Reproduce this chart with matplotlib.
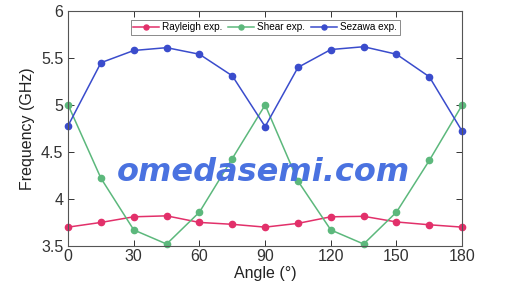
import matplotlib
matplotlib.use("Agg")
import matplotlib.pyplot as plt

plt.rcParams['font.family'] = ['Liberation Sans', 'DejaVu Sans']

angle = [0, 15, 30, 45, 60, 75, 90, 105, 120, 135, 150, 165, 180]
rayleigh = [3.70, 3.75, 3.81, 3.82, 3.75, 3.73, 3.70, 3.74, 3.81, 3.815, 3.755, 3.725, 3.70]
shear = [5.00, 4.22, 3.67, 3.52, 3.86, 4.43, 5.00, 4.19, 3.67, 3.52, 3.86, 4.41, 5.00]
sezawa = [4.78, 5.45, 5.58, 5.61, 5.54, 5.31, 4.77, 5.40, 5.59, 5.62, 5.54, 5.30, 4.72]

fig = plt.figure(figsize=(5.24, 2.90), dpi=100)
ax = fig.add_axes([0.130, 0.152, 0.752, 0.810])

ax.plot(angle, rayleigh, color="#e2306a", marker="o", markersize=4.5, linewidth=1.1, label="Rayleigh exp.", clip_on=False)
ax.plot(angle, shear, color="#5cb87c", marker="o", markersize=4.5, linewidth=1.1, label="Shear exp.", clip_on=False)
ax.plot(angle, sezawa, color="#3a4ccc", marker="o", markersize=4.5, linewidth=1.1, label="Sezawa exp.", clip_on=False)

ax.set_xlim(0, 180)
ax.set_ylim(3.5, 6)
ax.set_xticks([0, 30, 60, 90, 120, 150, 180])
ax.set_yticks([3.5, 4, 4.5, 5, 5.5, 6])
ax.set_yticklabels(["3.5", "4", "4.5", "5", "5.5", "6"])
ax.tick_params(direction="in", top=True, right=True, labelsize=11.5, length=4, width=0.7, colors="#333333")
ax.tick_params(axis="x", pad=2)
for s in ax.spines.values():
    s.set_linewidth(0.8)
    s.set_color("#555555")

ax.set_xlabel("Angle (°)", fontsize=11.5, color="#222222", labelpad=2)
ax.set_ylabel("Frequency (GHz)", fontsize=11.5, color="#222222", labelpad=4)

leg = ax.legend(loc="upper center", ncol=3, fontsize=7.2, frameon=True, fancybox=False,
                borderpad=0.25, handlelength=2.6, handletextpad=0.3, columnspacing=0.6,
                bbox_to_anchor=(0.5, 0.985), markerscale=0.8)
leg.get_frame().set_edgecolor("#555555")
leg.get_frame().set_linewidth(0.6)

fig.text(0.502, 0.405, "omedasemi.com", color="#4a72e0", fontsize=23, fontweight="heavy",
         fontstyle="italic", ha="center", va="center", family="DejaVu Sans")

fig.savefig("out.png", dpi=100)
